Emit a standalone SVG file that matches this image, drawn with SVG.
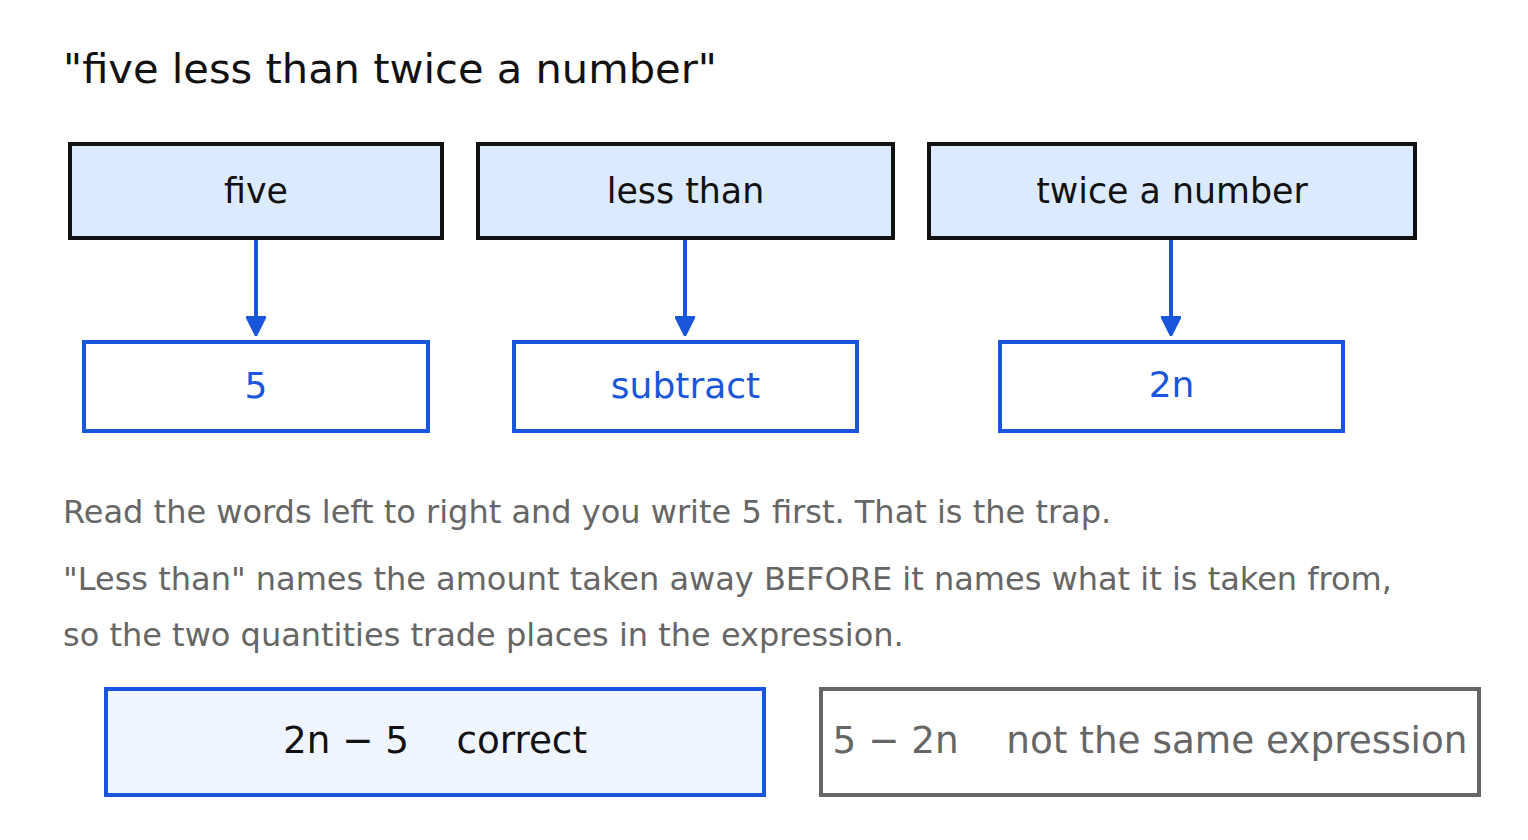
<svg xmlns="http://www.w3.org/2000/svg" width="1528" height="840" viewBox="0 0 1528 840">
<style>
text{font-family:"DejaVu Sans",sans-serif}
.title{font-size:41.6px;fill:#111}
.top rect{fill:#dbeafe;stroke:#111;stroke-width:4}
.top text{font-size:34.8px;fill:#111;text-anchor:middle}
.bot rect{fill:#fff;stroke:#1a56db;stroke-width:4}
.bot text{font-size:36px;fill:#1a56db;text-anchor:middle}
.para{font-size:32px;fill:#666}
.edge{stroke:#1a56db;stroke-width:4;fill:none}
</style>
<defs>
<marker id="ah" viewBox="0 0 10 10" refX="9" refY="5" markerWidth="5" markerHeight="5" orient="auto" markerUnits="strokeWidth">
<path d="M0,0 L10,5 L0,10 Z" fill="#1a56db" stroke="#1a56db" stroke-linejoin="round"/>
</marker>
</defs>
<rect width="1528" height="840" fill="#fff"/>
<text class="title" x="63" y="83">"five less than twice a number"</text>
<g id="n-five" class="top"><rect x="70" y="144" width="372" height="94"/><text x="256" y="203">five</text></g>
<g id="n-less" class="top"><rect x="478" y="144" width="415" height="94"/><text x="685.5" y="203">less than</text></g>
<g id="n-twice" class="top"><rect x="929" y="144" width="486" height="94"/><text x="1172" y="203">twice a number</text></g>
<g id="n-5" class="bot"><rect x="84" y="342" width="344" height="89"/><text x="256" y="398">5</text></g>
<g id="n-sub" class="bot"><rect x="514" y="342" width="343" height="89"/><text x="685.5" y="398">subtract</text></g>
<g id="n-2n" class="bot"><rect x="1000" y="342" width="343" height="89"/><text x="1171.5" y="397">2n</text></g>
<g id="edges">
<line class="edge" x1="256" y1="240" x2="256" y2="334" marker-end="url(#ah)"/>
<line class="edge" x1="685" y1="240" x2="685" y2="334" marker-end="url(#ah)"/>
<line class="edge" x1="1171" y1="240" x2="1171" y2="334" marker-end="url(#ah)"/>
</g>
<text class="para" x="63" y="523">Read the words left to right and you write 5 first. That is the trap.</text>
<text class="para" x="63" y="590">"Less than" names the amount taken away BEFORE it names what it is taken from,</text>
<text class="para" x="63" y="646">so the two quantities trade places in the expression.</text>
<g id="n-correct"><rect x="106" y="689" width="658" height="106" fill="#eff6ff" stroke="#1a56db" stroke-width="4"/><text x="435" y="753" font-size="38" fill="#111" text-anchor="middle" textLength="304" lengthAdjust="spacingAndGlyphs" xml:space="preserve">2n − 5    correct</text></g>
<g id="n-wrong"><rect x="821" y="689" width="658" height="106" fill="#fff" stroke="#666" stroke-width="4"/><text x="1150" y="753" font-size="38" fill="#666" text-anchor="middle" textLength="635" lengthAdjust="spacingAndGlyphs" xml:space="preserve">5 − 2n    not the same expression</text></g>
</svg>
